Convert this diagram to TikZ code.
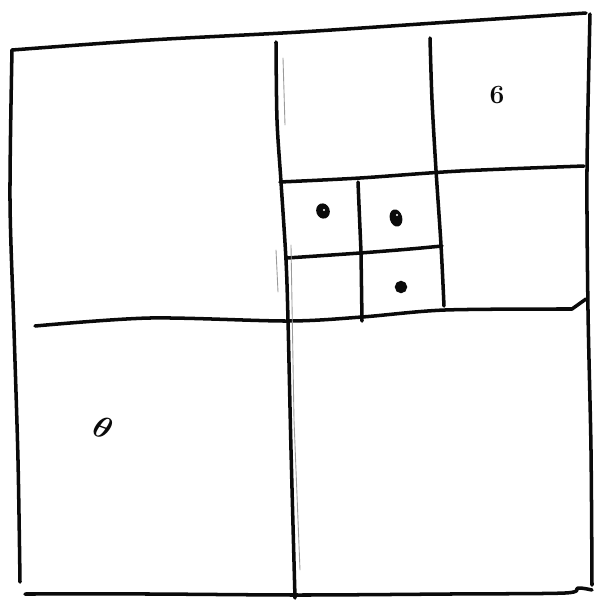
\documentclass[tikz,border=0pt]{standalone}
\usepackage{amsmath,amssymb}
\usepackage{tikz}
\usetikzlibrary{positioning}
\definecolor{ink}{HTML}{0A0A0A}
\definecolor{faint}{HTML}{9A9A9A}
\tikzset{
  pen/.style={ink,line width=2pt,line cap=round,line join=round},
  faintpen/.style={faint,line width=0.5pt,line cap=round},
  blob/.style={fill=ink,draw=ink,line width=0.8pt},
}

\begin{document}
\begin{tikzpicture}[x=0.02cm,y=-0.02cm]
\useasboundingbox (0,0) rectangle (598,606);
% outer frame
\draw[pen] plot[smooth] coordinates {(12,50) (150,40) (300,32) (450,22) (586,13)};
\draw[pen] plot[smooth] coordinates {(12,50) (10,200) (14,330) (18,460) (20,582)};
\draw[pen] plot[smooth] coordinates {(590,14) (587,170) (588,310) (591,450) (592,585)};
\draw[pen] plot[smooth] coordinates {(25,594) (150,594) (300,595) (450,594) (565,593) (578,588) (592,590)};
% first split
\draw[pen] plot[smooth] coordinates {(276,42) (277,120) (281,182) (286,260) (288,320) (291,450) (295,598)};
\draw[pen] plot[smooth] coordinates {(35,326) (150,318) (288,321) (362,317) (445,310) (572,309)} -- (586,299);
% top right quadrant
\draw[pen] plot[smooth] coordinates {(430,38) (432,100) (436,170) (441,245) (444,306)};
\draw[pen] plot[smooth] coordinates {(280,182) (360,178) (460,171) (584,166)};
% finer cells
\draw[pen] (358,182) -- (361,252) -- (362,321);
\draw[pen] plot[smooth] coordinates {(287,258) (360,253) (410,249) (442,246)};
% stray pencil strokes
\draw[faintpen] (283,58) -- (285,125);
\draw[faintpen] (276,250) -- (278,292);
\draw[faintpen] (291,245) -- (294,420) -- (300,570);
% points
\draw[blob,rotate around={20:(323,211)}] (323,211) ellipse (6 and 7);
\fill[white] (324,210) circle (1.2);
\draw[blob,rotate around={15:(396,218)}] (396,218) ellipse (5.5 and 8);
\fill[white] (397,215) circle (1.1);
\draw[blob] (401,287) circle (5.5);
\node[ink] (six) at (497,95) {\fontsize{15}{15}\selectfont\bfseries 6};
\node[ink,rotate=-20] (zero) at (103,428) {\fontsize{16}{16}\selectfont $\boldsymbol{\theta}$};
\end{tikzpicture}
\end{document}
